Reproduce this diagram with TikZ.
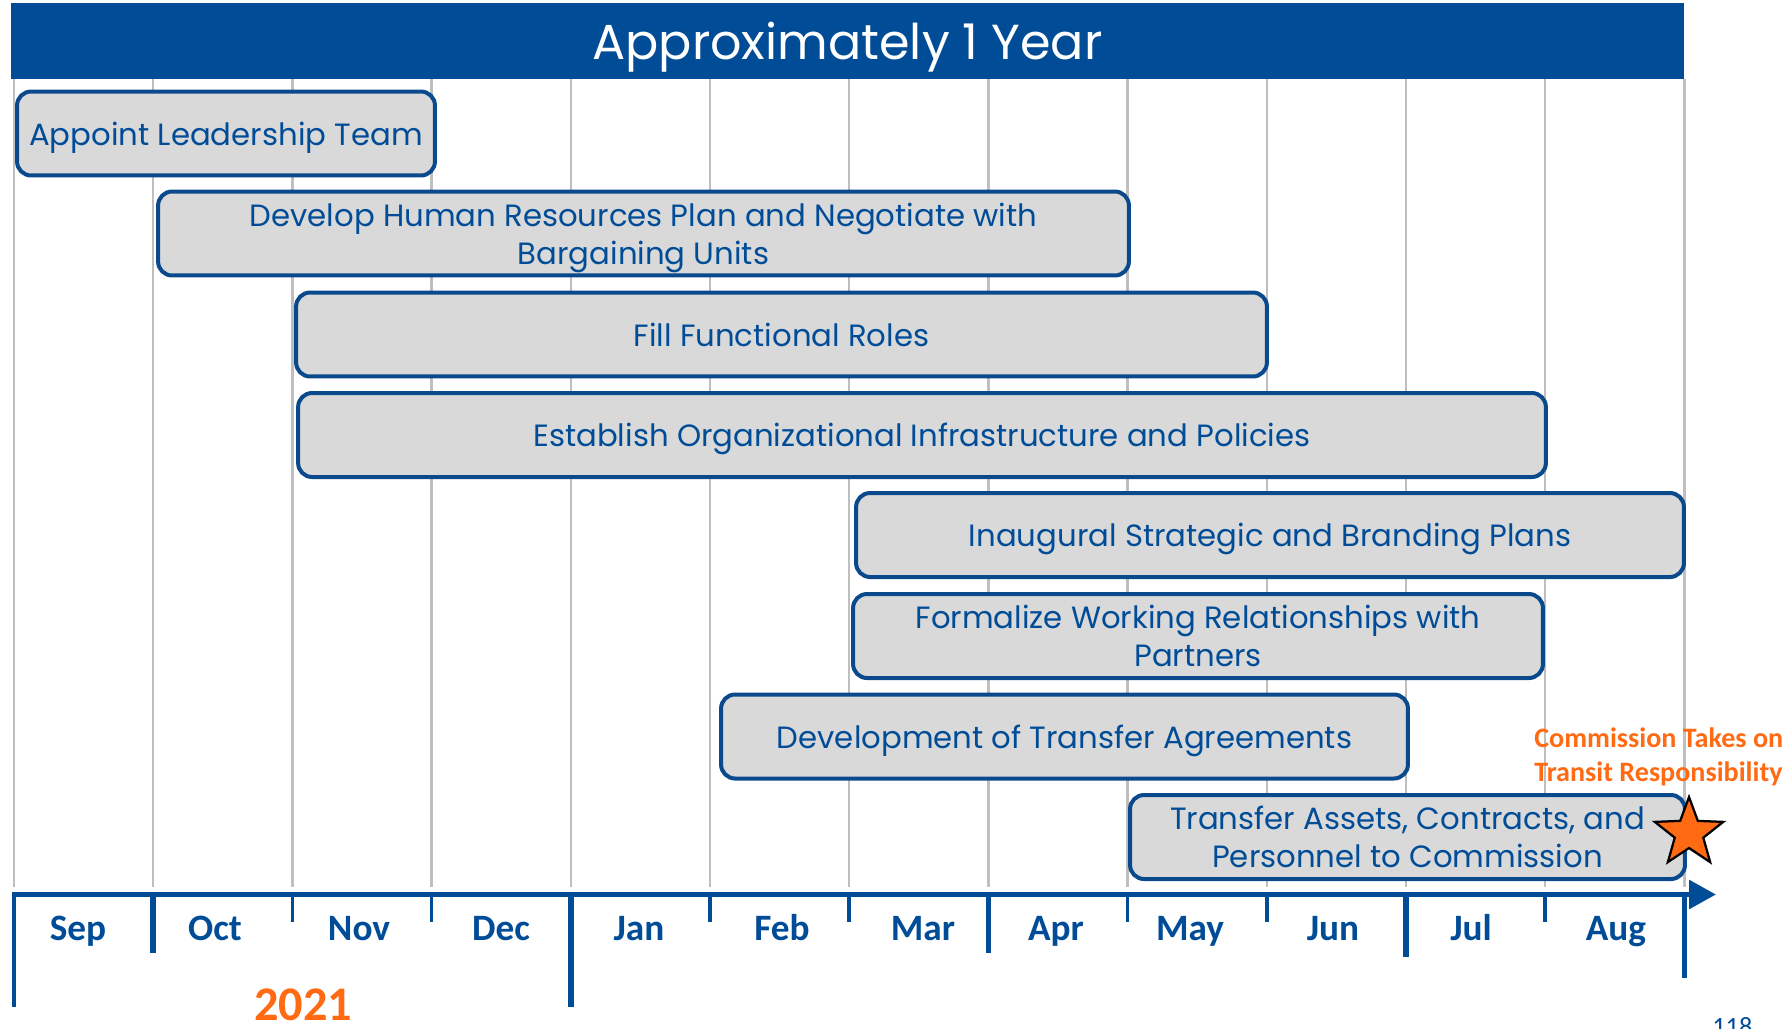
\documentclass[tikz,border=0pt]{standalone}
\usepackage{fontspec}
\setmainfont{Poppins}
\newfontfamily\calibri{Carlito}
\usepackage{tikz}
\usetikzlibrary{arrows.meta,shapes.geometric}
\definecolor{navy}{RGB}{0,76,151}
\definecolor{barblue}{RGB}{10,74,140}
\definecolor{bargray}{RGB}{217,217,217}
\definecolor{gridgray}{RGB}{191,191,191}
\definecolor{orng}{RGB}{255,106,19}

\begin{document}
\begin{tikzpicture}[x=0.02cm, y=-0.02cm,
  header/.style={fill=navy, minimum width=33.46cm, minimum height=1.52cm, inner sep=0pt, text depth=0pt, text=white, font=\fontsize{28}{32}\selectfont},
  bar/.style={draw=barblue, fill=bargray, line width=0.08cm, rounded corners=0.28cm, minimum height=1.68cm, inner sep=0pt, text depth=0pt, align=center, text=navy, font=\fontsize{17.5}{21.5}\selectfont},
  grid/.style={gridgray, line width=0.045cm},
  axisline/.style={navy, line width=0.115cm, -{Triangle[length=0.54cm, width=0.56cm]}},
  tick/.style={navy},
  month/.style={anchor=base, text=navy, font=\calibri\bfseries\fontsize{21.2}{24}\selectfont},
  year/.style={anchor=base, inner sep=0pt, text=orng, font=\calibri\bfseries\fontsize{27.5}{30}\selectfont},
  note/.style={anchor=north west, inner sep=0pt, align=left, text=orng, font=\calibri\bfseries\fontsize{16}{19.4}\selectfont},
]
\useasboundingbox (0,0) rectangle (1787,1028);

% month grid
\foreach \i in {0,...,12}
  \draw[grid] ({14+139.2*\i},79) -- ({14+139.2*\i},887);

\node[header] (hdr) at (847.5,41) {Approximately 1 Year};

% ===== activities =====
\node[bar, minimum width=8.36cm]  (lead)   at (226,133.5)  {Appoint Leadership Team};
\node[bar, minimum width=19.42cm] (hrplan) at (643.5,233.5) {Develop Human Resources Plan and Negotiate with\\Bargaining Units};
\node[bar, minimum width=19.42cm] (roles)  at (781.5,334.5) {Fill Functional Roles};
\node[bar, minimum width=24.96cm] (infra)  at (922,435)    {Establish Organizational Infrastructure and Policies};
\node[bar, minimum width=16.56cm] (brand)  at (1270,535)   {Inaugural Strategic and Branding Plans};
\node[bar, minimum width=13.8cm]  (partn)  at (1198,636)   {Formalize Working Relationships with\\Partners};
\node[bar, minimum width=13.74cm] (agree)  at (1064.5,736.5) {Development of Transfer Agreements};
\node[bar, minimum width=11.1cm]  (assets) at (1407.5,837) {Transfer Assets, Contracts, and\\Personnel to Commission};

% milestone
\node[star, star points=5, star point ratio=2.4, fill=orng, draw=black, line width=0.045cm, minimum size=1.44cm, inner sep=0pt] (goal) at (1689,833) {};
\node[note] (goaltxt) at (1534,727) {Commission Takes on\\Transit Responsibility};

% ===== time axis =====
\draw[axisline] (12,894.5) -- (1716,894.5);
\foreach \i/\tend/\tw in {0/1007/0.1, 1/953/0.11, 2/922/0.07, 3/922/0.07, 4/1007/0.11, 5/922/0.07,
                         6/922/0.07, 7/953/0.11, 8/922/0.07, 9/922/0.07, 10/957/0.11, 11/922/0.07, 12/978/0.11}
  \draw[tick, line width=\tw cm] ({14+139.2*\i},892) -- ({14+139.2*\i},\tend);

\foreach \m/\x [count=\i from 0] in {Sep/78,Oct/215,Nov/359,Dec/501,Jan/639,Feb/782,Mar/923,Apr/1056,May/1190,Jun/1333,Jul/1471,Aug/1616}
  \node[month] (mon\i) at (\x,940) {\m};

\node[year] (yr) at (303,1020) {2021};
\node[anchor=base west, inner sep=0pt, text=navy, font=\calibri\fontsize{15}{18}\selectfont] (pg) at (1712,1035) {118};

\end{tikzpicture}
\end{document}
